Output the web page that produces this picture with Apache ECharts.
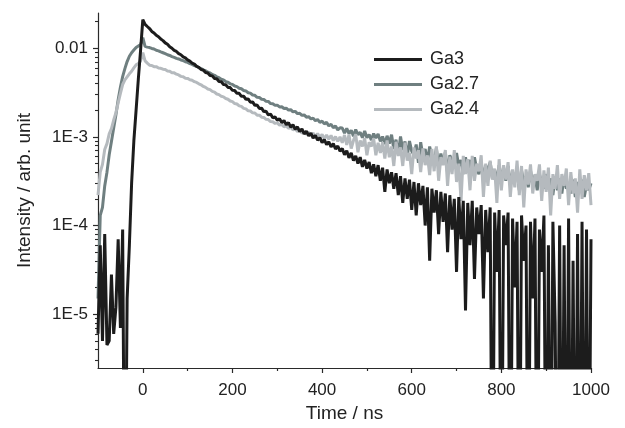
<!DOCTYPE html>
<html>
<head>
<meta charset="utf-8">
<script src="https://cdn.jsdelivr.net/npm/echarts@6/dist/echarts.min.js"></script>
<style>
  html, body { margin: 0; padding: 0; background: #fff; }
  #chart { width: 625px; height: 428px; }
</style>
</head>
<body>
<div id="chart"></div>
<script>
// time axis, ns
const time = [
  -100,-95,-90,-85,-80,-75,-70,-65,-60,-55,-50,-45,-40,-35,-30,-25,-20,-15,-10,-5,
  0,5,10,15,20,25,30,35,40,45,50,55,60,65,70,75,80,85,90,95,
  100,105,110,115,120,125,130,135,140,145,150,155,160,165,170,175,180,185,190,195,
  200,205,210,215,220,225,230,235,240,245,250,255,260,265,270,275,280,285,290,295,
  300,305,310,315,320,325,330,335,340,345,350,355,360,365,370,375,380,385,390,395,
  400,405,410,415,420,425,430,435,440,445,450,455,460,465,470,475,480,485,490,495,
  500,505,510,515,520,525,530,535,540,545,550,555,560,565,570,575,580,585,590,595,
  600,605,610,615,620,625,630,635,640,645,650,655,660,665,670,675,680,685,690,695,
  700,705,710,715,720,725,730,735,740,745,750,755,760,765,770,775,780,785,790,795,
  800,805,810,815,820,825,830,835,840,845,850,855,860,865,870,875,880,885,890,895,
  900,905,910,915,920,925,930,935,940,945,950,955,960,965,970,975,980,985,990,995,
  1000
];

// Ga3 (1e-8 = below the axis, the line drops out of the plot)
const ga3 = [
  6e-6,6e-5,5e-6,8e-5,4.5e-6,5e-6,2.8e-5,6e-6,1.2e-5,7e-5,7e-6,9e-5,1e-8,1.5e-5,6e-5,3e-4,9e-4,2e-3,4.5e-3,9.5e-3,
  2.1e-2,1.86e-2,1.76e-2,1.67e-2,1.55e-2,1.49e-2,1.4e-2,1.35e-2,1.27e-2,1.22e-2,1.15e-2,1.11e-2,1.04e-2,1.0e-2,9.45e-3,9.2e-3,8.7e-3,8.45e-3,8.0e-3,7.8e-3,
  7.38e-3,7.18e-3,6.78e-3,6.62e-3,6.24e-3,6.1e-3,5.76e-3,5.67e-3,5.33e-3,5.26e-3,4.92e-3,4.88e-3,4.56e-3,4.53e-3,4.22e-3,4.2e-3,3.9e-3,3.88e-3,3.62e-3,3.6e-3,
  3.35e-3,3.34e-3,3.1e-3,3.1e-3,2.87e-3,2.88e-3,2.66e-3,2.68e-3,2.46e-3,2.48e-3,2.27e-3,2.29e-3,2.09e-3,2.11e-3,1.93e-3,1.95e-3,1.77e-3,1.81e-3,1.64e-3,1.68e-3,
  1.54e-3,1.6e-3,1.45e-3,1.53e-3,1.37e-3,1.45e-3,1.29e-3,1.37e-3,1.22e-3,1.3e-3,1.15e-3,1.23e-3,1.08e-3,1.16e-3,1.03e-3,1.1e-3,9.7e-4,1.04e-3,9.2e-4,9.8e-4,
  8.6e-4,9.3e-4,8.2e-4,8.8e-4,7.7e-4,8.4e-4,7.3e-4,7.9e-4,6.9e-4,7.4e-4,6.3e-4,7.0e-4,5.8e-4,6.6e-4,5.4e-4,6.1e-4,5.0e-4,5.9e-4,4.6e-4,5.5e-4,
  4.4e-4,5.2e-4,3.9e-4,4.9e-4,3.6e-4,4.8e-4,3.2e-4,4.5e-4,2.4e-4,4.3e-4,3.0e-4,4.0e-4,2.6e-4,3.9e-4,2.2e-4,3.6e-4,1.8e-4,3.4e-4,2.0e-4,3.3e-4,
  1.5e-4,3.1e-4,1.3e-4,3.0e-4,1.7e-4,2.8e-4,1.0e-4,2.7e-4,4e-5,2.6e-4,1.4e-4,2.5e-4,8e-5,2.4e-4,1.1e-4,2.3e-4,5e-5,2.2e-4,9e-5,2.0e-4,
  3e-5,2.1e-4,7e-5,1.9e-4,1.1e-5,1.8e-4,6e-5,1.9e-4,2.5e-5,1.6e-4,8e-5,1.7e-4,1.5e-5,1.5e-4,5e-5,1.6e-4,1e-8,1.4e-4,3e-5,1.5e-4,
  1e-8,1.3e-4,6e-5,1.4e-4,1e-8,1.2e-4,2e-5,1.1e-4,1e-8,1.3e-4,4e-5,1.0e-4,1e-8,1.1e-4,1.5e-5,1.2e-4,1e-8,9e-5,3e-5,1.3e-4,
  1e-8,6e-5,1e-8,1.1e-4,8e-6,1e-8,1.0e-4,1e-8,6e-5,1e-8,1.2e-4,1e-8,4e-5,1e-8,8e-5,1e-8,1.1e-4,1e-8,9e-5,1e-8,
  7e-5
];

// Ga2.7
const ga27 = [
  1.5e-5,1.3e-4,1.6e-4,2.8e-4,4.0e-4,6.3e-4,8.9e-4,1.26e-3,1.78e-3,2.63e-3,3.63e-3,4.79e-3,5.89e-3,7.08e-3,8.13e-3,8.91e-3,9.55e-3,1.02e-2,1.06e-2,1.1e-2,
  1.32e-2,1.05e-2,1.03e-2,1.02e-2,9.95e-3,9.8e-3,9.5e-3,9.35e-3,9.1e-3,8.9e-3,8.7e-3,8.45e-3,8.3e-3,8.05e-3,7.9e-3,7.7e-3,7.58e-3,7.38e-3,7.25e-3,7.05e-3,
  6.93e-3,6.72e-3,6.58e-3,6.38e-3,6.25e-3,6.02e-3,5.9e-3,5.7e-3,5.58e-3,5.37e-3,5.27e-3,5.06e-3,4.95e-3,4.76e-3,4.66e-3,4.47e-3,4.39e-3,4.21e-3,4.14e-3,3.97e-3,
  3.91e-3,3.75e-3,3.69e-3,3.54e-3,3.49e-3,3.34e-3,3.3e-3,3.15e-3,3.12e-3,2.97e-3,2.95e-3,2.8e-3,2.79e-3,2.66e-3,2.65e-3,2.52e-3,2.51e-3,2.38e-3,2.37e-3,2.27e-3,
  2.28e-3,2.18e-3,2.19e-3,2.09e-3,2.11e-3,2.01e-3,2.03e-3,1.92e-3,1.94e-3,1.83e-3,1.85e-3,1.75e-3,1.77e-3,1.67e-3,1.69e-3,1.6e-3,1.63e-3,1.52e-3,1.57e-3,1.46e-3,
  1.51e-3,1.4e-3,1.46e-3,1.33e-3,1.39e-3,1.27e-3,1.33e-3,1.2e-3,1.27e-3,1.26e-3,1.1e-3,1.25e-3,1.09e-3,1.19e-3,1.02e-3,1.21e-3,1.06e-3,1.13e-3,9.8e-4,1.17e-3,
  9.8e-4,1.06e-3,9.2e-4,1.09e-3,9.7e-4,1.08e-3,8.9e-4,1.01e-3,8.3e-4,1.03e-3,8.4e-4,1.06e-3,7.3e-4,9.3e-4,6.4e-4,1.01e-3,7.1e-4,8.9e-4,6.1e-4,9.0e-4,
  6.9e-4,6.3e-4,8.2e-4,5.1e-4,8.7e-4,6.1e-4,7.3e-4,5.2e-4,7.8e-4,6.0e-4,5.2e-4,7.5e-4,4.6e-4,6.5e-4,5.1e-4,6.7e-4,3.9e-4,6.2e-4,5.3e-4,4.4e-4,
  6.6e-4,4.7e-4,5.5e-4,3.8e-4,5.9e-4,4.2e-4,5.5e-4,3.7e-4,5.9e-4,4.3e-4,3.8e-4,5.3e-4,3.2e-4,4.8e-4,4.1e-4,5.2e-4,3.4e-4,4.3e-4,3.1e-4,4.8e-4,
  3.5e-4,4.3e-4,3.2e-4,4.7e-4,2.9e-4,4.0e-4,3.3e-4,4.2e-4,2.5e-4,4.2e-4,3.0e-4,3.6e-4,2.7e-4,4.2e-4,2.9e-4,3.7e-4,2.5e-4,3.8e-4,3.0e-4,2.6e-4,
  3.8e-4,2.8e-4,3.4e-4,2.2e-4,3.6e-4,2.5e-4,3.4e-4,2.3e-4,3.6e-4,2.6e-4,3.0e-4,2.3e-4,3.3e-4,2.1e-4,3.1e-4,2.4e-4,3.3e-4,2.1e-4,2.9e-4,2.5e-4,
  3.0e-4
];

// Ga2.4
const ga24 = [
  2.2e-4,4.0e-4,4.9e-4,7.2e-4,8.4e-4,1.08e-3,1.24e-3,1.55e-3,1.88e-3,2.42e-3,3.1e-3,3.9e-3,4.4e-3,4.75e-3,5.15e-3,5.5e-3,6.0e-3,6.5e-3,6.75e-3,7.2e-3,
  8.9e-3,7.2e-3,6.8e-3,6.45e-3,6.4e-3,6.2e-3,6.2e-3,6.0e-3,5.95e-3,5.8e-3,5.75e-3,5.55e-3,5.5e-3,5.3e-3,5.28e-3,5.1e-3,5.0e-3,4.82e-3,4.78e-3,4.6e-3,
  4.57e-3,4.42e-3,4.36e-3,4.2e-3,4.12e-3,3.97e-3,3.87e-3,3.71e-3,3.62e-3,3.47e-3,3.41e-3,3.26e-3,3.2e-3,3.05e-3,3.0e-3,2.87e-3,2.83e-3,2.71e-3,2.66e-3,2.54e-3,
  2.5e-3,2.38e-3,2.35e-3,2.24e-3,2.21e-3,2.1e-3,2.07e-3,1.97e-3,1.96e-3,1.87e-3,1.86e-3,1.76e-3,1.76e-3,1.67e-3,1.66e-3,1.58e-3,1.57e-3,1.49e-3,1.48e-3,1.42e-3,
  1.44e-3,1.36e-3,1.38e-3,1.3e-3,1.33e-3,1.25e-3,1.29e-3,1.2e-3,1.24e-3,1.15e-3,1.2e-3,1.1e-3,1.15e-3,1.07e-3,1.13e-3,1.03e-3,1.11e-3,1.0e-3,1.09e-3,9.9e-4,
  1.07e-3,9.5e-4,1.05e-3,9.4e-4,1.04e-3,9.1e-4,1.01e-3,8.9e-4,1.0e-3,8.6e-4,1.05e-3,8.1e-4,1.06e-3,7.4e-4,9.1e-4,1.07e-3,6.7e-4,9.1e-4,7.8e-4,9.7e-4,
  6.2e-4,8.7e-4,7.8e-4,9.6e-4,6.2e-4,8.6e-4,6.6e-4,8.7e-4,5.7e-4,9.1e-4,5.9e-4,7.8e-4,4.7e-4,8.8e-4,6.1e-4,7.6e-4,4.7e-4,8.6e-4,5.4e-4,6.6e-4,
  3.8e-4,7.6e-4,5.7e-4,7.1e-4,4.0e-4,7.4e-4,4.8e-4,6.2e-4,3.7e-4,7.3e-4,4.1e-4,7.8e-4,3.2e-4,5.9e-4,4.8e-4,7.1e-4,2.8e-4,6.0e-4,3.8e-4,7.1e-4,
  3.1e-4,5.0e-4,1.9e-4,6.1e-4,3.8e-4,5.6e-4,2.5e-4,6.1e-4,3.2e-4,5.0e-4,4.1e-4,6.2e-4,2.1e-4,5.0e-4,2.8e-4,5.4e-4,3.3e-4,4.4e-4,1.8e-4,5.6e-4,
  2.5e-4,4.8e-4,3.3e-4,5.2e-4,2.1e-4,4.3e-4,2.7e-4,5.4e-4,2.2e-4,4.7e-4,1.6e-4,4.3e-4,2.9e-4,4.9e-4,2.3e-4,3.8e-4,3.2e-4,4.9e-4,1.9e-4,4.2e-4,
  2.4e-4,4.5e-4,1.3e-4,3.8e-4,2.6e-4,4.8e-4,2.0e-4,3.8e-4,2.8e-4,4.4e-4,1.7e-4,4.0e-4,2.3e-4,3.4e-4,1.4e-4,4.3e-4,2.0e-4,3.7e-4,2.5e-4,3.9e-4,
  1.7e-4
];

const xTicks = [0, 200, 400, 600, 800, 1000];
const xMinorTicks = [100, 300, 500, 700, 900];
const yTicks = [1e-5, 1e-4, 1e-3, 1e-2];
const yTickLabels = ['1E-5', '1E-4', '1E-3', '0.01'];
const yMinorTicks = [
  3e-6,4e-6,5e-6,6e-6,7e-6,8e-6,9e-6,
  2e-5,3e-5,4e-5,5e-5,6e-5,7e-5,8e-5,9e-5,
  2e-4,3e-4,4e-4,5e-4,6e-4,7e-4,8e-4,9e-4,
  2e-3,3e-3,4e-3,5e-3,6e-3,7e-3,8e-3,9e-3,
  2e-2
];

const FONT = "'Liberation Sans', Arial, sans-serif";
const axisColor = '#2a2a2a';
const yMin = 2.47e-6, yMax = 0.025;

const pairs = (vals) => time.map((t, i) => [t, vals[i]]);

const lineSeries = (name, vals, color) => ({
  name: name,
  type: 'line',
  data: pairs(vals),
  showSymbol: false,
  symbol: 'none',
  sampling: null,
  clip: true,
  lineStyle: { color: color, width: 3 },
  itemStyle: { color: color }
});

const chart = echarts.init(document.getElementById('chart'));

const option = {
  animation: false,
  backgroundColor: '#fff',
  textStyle: { fontFamily: FONT },
  grid: { left: 98, right: 34, top: 13, bottom: 60, containLabel: false },
  legend: {
    data: ['Ga3', 'Ga2.7', 'Ga2.4'],
    orient: 'vertical',
    left: 374,
    top: 50.5,
    padding: 0,
    icon: 'rect',
    itemWidth: 48,
    itemHeight: 3,
    itemGap: 7,
    textStyle: { fontSize: 18, color: '#222', fontFamily: FONT, padding: [0, 0, 0, 3] }
  },
  xAxis: [
    {
      type: 'value', min: -100, max: 1000, position: 'bottom',
      name: 'Time / ns', nameLocation: 'middle', nameGap: 31,
      nameTextStyle: { fontSize: 19, color: '#222', fontFamily: FONT },
      axisLine: { onZero: false, lineStyle: { color: axisColor, width: 1.2 } },
      axisTick: { length: 5, customValues: xTicks, lineStyle: { color: axisColor, width: 1.2 } },
      axisLabel: {
        customValues: xTicks, fontSize: 17, color: '#222', margin: 14, fontFamily: FONT,
        formatter: (v) => String(v)
      },
      splitLine: { show: false }
    },
    {
      type: 'value', min: -100, max: 1000, position: 'bottom',
      axisLine: { show: false, onZero: false },
      axisTick: { length: 3, customValues: xMinorTicks, lineStyle: { color: axisColor, width: 1.2 } },
      axisLabel: { show: false },
      splitLine: { show: false }
    }
  ],
  yAxis: [
    {
      type: 'log', logBase: 10, min: yMin, max: yMax, position: 'left',
      name: 'Intensity / arb. unit', nameLocation: 'middle', nameGap: 64,
      nameTextStyle: { fontSize: 19, color: '#222', fontFamily: FONT },
      axisLine: { show: true, onZero: false, lineStyle: { color: axisColor, width: 1.2 } },
      axisTick: { show: true, length: 5, customValues: yTicks, lineStyle: { color: axisColor, width: 1.2 } },
      axisLabel: {
        customValues: yTicks, fontSize: 17, color: '#222', margin: 10, fontFamily: FONT,
        formatter: (v) => {
          const e = Math.log10(v);
          let best = 0;
          yTicks.forEach((tv, i) => {
            if (Math.abs(Math.log10(tv) - e) < Math.abs(Math.log10(yTicks[best]) - e)) best = i;
          });
          return yTickLabels[best];
        }
      },
      splitLine: { show: false }
    },
    {
      type: 'log', logBase: 10, min: yMin, max: yMax, position: 'left',
      axisLine: { show: false, onZero: false },
      axisTick: { show: true, length: 3, customValues: yMinorTicks, lineStyle: { color: axisColor, width: 1.1 } },
      axisLabel: { show: false },
      splitLine: { show: false }
    }
  ],
  series: [
    lineSeries('Ga2.7', ga27, '#6f7f80'),
    lineSeries('Ga2.4', ga24, '#b5babe'),
    lineSeries('Ga3', ga3, '#1c1c1c')
  ]
};

chart.setOption(option);
</script>
</body>
</html>
